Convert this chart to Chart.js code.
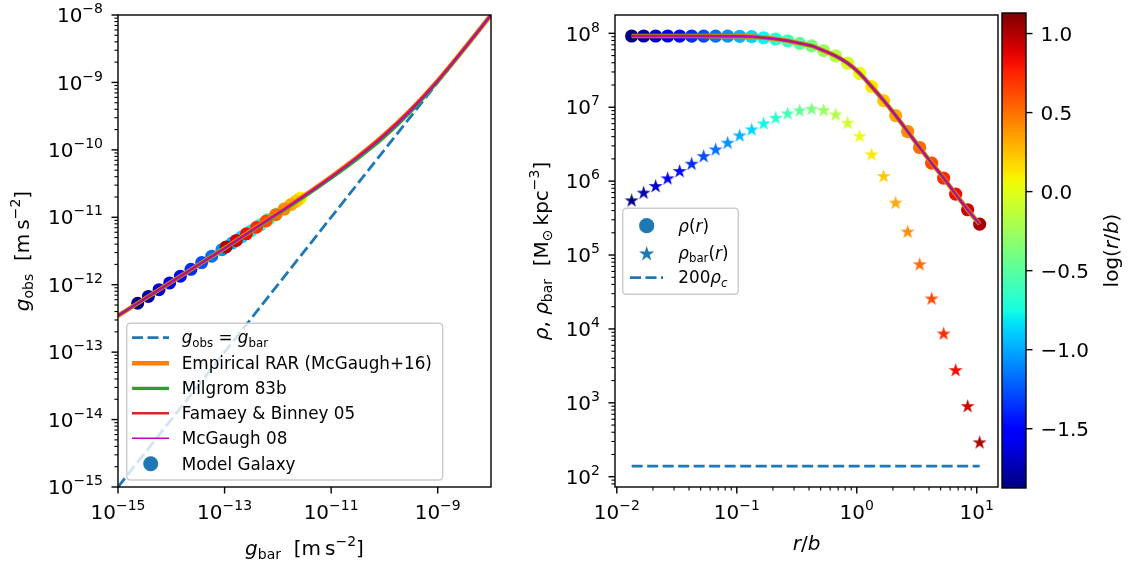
<!DOCTYPE html>
<html><head><meta charset="utf-8">
<script src="https://cdn.jsdelivr.net/npm/chart.js@4/dist/chart.umd.min.js"></script>
<style>
html,body{margin:0;padding:0;background:#fff;width:1128px;height:567px;overflow:hidden}
canvas{position:absolute;left:0;top:0}
</style></head><body>
<canvas id="cL" width="1128" height="567"></canvas>
<canvas id="cR" width="1128" height="567"></canvas>
<canvas id="cB" width="1128" height="567"></canvas>
<script>
// ---------------- DATA ----------------
// Right panel: radius grid r/b, densities (M_sun kpc^-3)
const rOverB = [0.01330,0.01675,0.02109,0.02655,0.03342,0.04207,0.05297,0.06668,0.08395,0.1057,0.1330,0.1675,0.2109,0.2655,0.3342,0.4207,0.5297,0.6668,0.8395,1.057,1.330,1.675,2.109,2.655,3.342,4.207,5.297,6.668,8.395,10.57];
const rho = [9.20e7,9.20e7,9.20e7,9.20e7,9.19e7,9.19e7,9.18e7,9.17e7,9.15e7,9.12e7,9.02e7,8.71e7,8.38e7,7.94e7,7.33e7,6.76e7,5.83e7,4.94e7,3.94e7,2.88e7,1.90e7,1.23e7,7.71e6,4.69e6,2.85e6,1.75e6,1.10e6,6.67e5,4.10e5,2.62e5];
const rhoBar = [5.42e5,6.89e5,8.47e5,1.076e6,1.352e6,1.698e6,2.153e6,2.649e6,3.266e6,4.102e6,4.943e6,5.957e6,7.096e6,8.128e6,8.913e6,9.397e6,9.016e6,7.870e6,6.081e6,4.018e6,2.270e6,1.156e6,5.047e5,2.046e5,7.396e4,2.541e4,8.551e3,2.735e3,891,288];
const rho200c = 139;
// Left panel: model galaxy accelerations (m s^-2), same radius grid
const gbarModel = [2.34e-15,3.72e-15,5.89e-15,9.33e-15,1.48e-14,2.34e-14,3.72e-14,5.75e-14,8.91e-14,1.38e-13,2.09e-13,3.16e-13,4.68e-13,6.76e-13,9.55e-13,1.32e-12,1.74e-12,2.14e-12,2.45e-12,2.69e-12,2.57e-12,2.24e-12,1.78e-12,1.32e-12,9.12e-13,6.03e-13,3.98e-13,2.57e-13,1.66e-13,1.07e-13];
const gobsModel = [5.31e-13,6.70e-13,8.43e-13,1.062e-12,1.340e-12,1.690e-12,2.13e-12,2.65e-12,3.31e-12,4.14e-12,5.11e-12,6.31e-12,7.73e-12,9.35e-12,1.119e-11,1.324e-11,1.531e-11,1.71e-11,1.84e-11,1.94e-11,1.89e-11,1.75e-11,1.55e-11,1.324e-11,1.092e-11,8.81e-12,7.11e-12,5.68e-12,4.54e-12,3.64e-12];
// Left panel: relation curves
const gbarCurve = [1e-15,3.16e-15,1e-14,3.16e-14,1e-13,3.16e-13,1e-12,3.16e-12,1e-11,3.16e-11,1e-10,3.16e-10,1e-9,3.16e-9,1e-8];
const gobsRAR = [3.47e-13,6.17e-13,1.096e-12,1.95e-12,3.47e-12,6.31e-12,1.148e-11,2.11e-11,3.98e-11,7.87e-11,1.67e-10,3.94e-10,1.059e-9,3.18e-9,1.0e-8];
const gobsMilgrom = [3.47e-13,6.17e-13,1.096e-12,1.95e-12,3.47e-12,6.22e-12,1.12e-11,2.02e-11,3.80e-11,7.41e-11,1.55e-10,3.72e-10,1.035e-9,3.17e-9,1.0e-8];
const gobsFB05 = [3.47e-13,6.17e-13,1.096e-12,1.95e-12,3.47e-12,6.32e-12,1.147e-11,2.11e-11,4.0e-11,7.94e-11,1.69e-10,4.02e-10,1.075e-9,3.2e-9,1.0e-8];
const gobsMcG08 = [3.47e-13,6.17e-13,1.096e-12,1.95e-12,3.47e-12,6.27e-12,1.14e-11,2.09e-11,3.92e-11,7.7e-11,1.62e-10,3.85e-10,1.045e-9,3.17e-9,1.0e-8];
const oneToOne = [1e-15, 1e-8];
// Colorbar range (log r/b) and ticks
const cbMin = -1.875, cbMax = 1.13;
const cbTicks = [-1.5,-1.0,-0.5,0.0,0.5,1.0];
const legendLeft = ['g_obs = g_bar','Empirical RAR (McGaugh+16)','Milgrom 83b','Famaey & Binney 05','McGaugh 08','Model Galaxy'];

// ---------------- STYLE HELPERS ----------------
const FONT = '"DejaVu Sans"';
const FS = 20, LFS = 16.8;
const C_BLUE='#1f77b4', C_OR='#ff7f0e', C_GR='#2ca02c', C_RED='#d62728', C_MAG='#bf00bf';
Chart.defaults.font.family = 'DejaVu Sans';

function jet(t){
  t=Math.max(0,Math.min(1,t));
  const seg=(p)=>{for(let i=1;i<p.length;i++){if(t<=p[i][0]){const[x0,y0]=p[i-1],[x1,y1]=p[i];return y0+(y1-y0)*(t-x0)/(x1-x0);}}return p[p.length-1][1];};
  const r=seg([[0,0],[0.35,0],[0.66,1],[0.89,1],[1,0.5]]);
  const g=seg([[0,0],[0.125,0],[0.375,1],[0.64,1],[0.91,0],[1,0]]);
  const b=seg([[0,0.5],[0.11,1],[0.34,1],[0.65,0],[1,0]]);
  return `rgb(${Math.round(r*255)},${Math.round(g*255)},${Math.round(b*255)})`;
}
const colorOfR = r => jet((Math.log10(r)-cbMin)/(cbMax-cbMin));
const ptColors = rOverB.map(colorOfR);

function starPath(ctx,cx,cy,R){
  const ri=R*0.381966; ctx.beginPath();
  for(let k=0;k<10;k++){const a=-Math.PI/2+k*Math.PI/5;const rr=k%2?ri:R;ctx.lineTo(cx+rr*Math.cos(a),cy+rr*Math.sin(a));}
  ctx.closePath();
}
function starImage(color,R){
  const c=document.createElement('canvas');const s=Math.ceil(2*R+2);c.width=s;c.height=s;
  const x=c.getContext('2d');x.fillStyle=color;starPath(x,s/2,s/2,R);x.fill();return c;
}
const starImgs = ptColors.map(c=>starImage(c,7.4));

// rich text: parts [text, flags] flags: i italic, _ subscript, ^ superscript
function drawRich(ctx, parts, x, y, o={}){
  const fs=o.fs||FS, align=o.align||'left';
  ctx.save(); ctx.translate(x,y); if(o.rot) ctx.rotate(o.rot);
  ctx.textAlign='left'; ctx.textBaseline='alphabetic'; ctx.fillStyle=o.color||'#000';
  const items=[]; let w=0;
  for(const [t,f=''] of parts){
    const small=f.includes('_')||f.includes('^');
    const size=small?fs*0.7:fs;
    ctx.font=(f.includes('i')?'italic ':'')+size.toFixed(2)+'px '+FONT;
    const tw=ctx.measureText(t).width;
    let dy=0; if(f.includes('_')) dy=fs*0.22; if(f.includes('^')) dy=-fs*0.45;
    items.push({t,font:ctx.font,x:w,dy}); w+=tw;
  }
  const x0=align==='center'?-w/2:align==='right'?-w:0;
  for(const it of items){ctx.font=it.font;ctx.fillText(it.t,x0+it.x,it.dy);}
  ctx.restore();
}
const supLabel = e => [['10',''],[(e<0?'\u2212':'')+Math.abs(e),'^']];

function logTickList(minE,maxE,step,minor){
  const out=[];
  for(let e=minE;e<=maxE;e++){
    if(((e-minE)%step)===0) out.push({v:Math.pow(10,e),e,major:true});
    if(minor) for(let m=2;m<=9;m++) out.push({v:m*Math.pow(10,e),major:false});
  }
  return out;
}
function drawTicksX(chart, ticks, baseline){
  const ctx=chart.ctx,s=chart.scales.x,a=chart.chartArea;
  ctx.save(); ctx.strokeStyle='#000';
  for(const t of ticks){
    if(t.v<s.min*0.9999||t.v>s.max*1.0001) continue;
    const px=s.getPixelForValue(t.v);
    ctx.lineWidth=t.major?1.4:1.1; const len=t.major?6.5:3.6;
    ctx.beginPath();ctx.moveTo(px,a.bottom);ctx.lineTo(px,a.bottom+len);ctx.stroke();
    if(t.major) drawRich(ctx,supLabel(t.e),px,baseline,{align:'center'});
  }
  ctx.restore();
}
function drawTicksY(chart, ticks, rightX){
  const ctx=chart.ctx,s=chart.scales.y,a=chart.chartArea;
  ctx.save(); ctx.strokeStyle='#000';
  for(const t of ticks){
    if(t.v<s.min*0.9999||t.v>s.max*1.0001) continue;
    const py=s.getPixelForValue(t.v);
    ctx.lineWidth=t.major?1.4:1.1; const len=t.major?6.5:3.6;
    ctx.beginPath();ctx.moveTo(a.left,py);ctx.lineTo(a.left-len,py);ctx.stroke();
    if(t.major) drawRich(ctx,supLabel(t.e),rightX,py+7.2,{align:'right'});
  }
  ctx.restore();
}
function frame(chart){
  const ctx=chart.ctx,a=chart.chartArea;
  ctx.save();ctx.strokeStyle='#000';ctx.lineWidth=1.4;
  ctx.strokeRect(a.left,a.top,a.right-a.left,a.bottom-a.top);ctx.restore();
}
function legendBox(ctx,x,y,w,h){
  const r=4; ctx.save(); ctx.beginPath();
  ctx.moveTo(x+r,y);ctx.lineTo(x+w-r,y);ctx.quadraticCurveTo(x+w,y,x+w,y+r);
  ctx.lineTo(x+w,y+h-r);ctx.quadraticCurveTo(x+w,y+h,x+w-r,y+h);
  ctx.lineTo(x+r,y+h);ctx.quadraticCurveTo(x,y+h,x,y+h-r);
  ctx.lineTo(x,y+r);ctx.quadraticCurveTo(x,y,x+r,y);ctx.closePath();
  ctx.fillStyle='rgba(255,255,255,0.8)';ctx.fill();
  ctx.strokeStyle='#cccccc';ctx.lineWidth=1.4;ctx.stroke();ctx.restore();
}
function hline(ctx,x1,x2,y,color,lw,dash){
  ctx.save();ctx.strokeStyle=color;ctx.lineWidth=lw;ctx.setLineDash(dash||[]);ctx.lineCap='butt';
  ctx.beginPath();ctx.moveTo(x1,y);ctx.lineTo(x2,y);ctx.stroke();ctx.restore();
}
const DASH=[11,4.5];

const xy=(xs,ys)=>xs.map((x,i)=>({x,y:ys[i]}));
const baseOpts = (pad, xs, ys) => ({
  responsive:false, animation:false, events:[],
  layout:{padding:pad},
  plugins:{legend:{display:false},tooltip:{enabled:false}},
  scales:{x:Object.assign({display:false,bounds:'data'},xs), y:Object.assign({display:false,bounds:'data'},ys)}
});
const lineDs=(data,color,w,order,extra)=>Object.assign({data,showLine:true,borderColor:color,borderWidth:w,pointRadius:0,fill:false,cubicInterpolationMode:'monotone',order},extra||{});

// ---------------- LEFT PANEL ----------------
new Chart(document.getElementById('cL'),{
  type:'scatter',
  data:{datasets:[
    {data:xy(gbarModel,gobsModel),pointRadius:6.5,pointBackgroundColor:ptColors,pointBorderWidth:0,pointBorderColor:'rgba(0,0,0,0)',order:10},
    lineDs(xy(oneToOne,oneToOne),C_BLUE,2.8,6,{borderDash:DASH,cubicInterpolationMode:'default'}),
    lineDs(xy(gbarCurve,gobsRAR),C_OR,4.6,4),
    lineDs(xy(gbarCurve,gobsMilgrom),C_GR,3.2,3),
    lineDs(xy(gbarCurve,gobsFB05),C_RED,2.4,2),
    lineDs(xy(gbarCurve,gobsMcG08),C_MAG,1.5,1)
  ]},
  options:baseOpts({left:118,top:15,right:1128-491,bottom:567-487},
    {type:'logarithmic',min:1e-15,max:1e-8},{type:'logarithmic',min:1e-15,max:1e-8}),
  plugins:[{id:'decorL',afterDraw(chart){
    const ctx=chart.ctx;
    frame(chart);
    drawTicksX(chart,logTickList(-15,-8,2,false),519);
    drawTicksY(chart,logTickList(-15,-8,1,true),103);
    drawRich(ctx,[['g','i'],['bar','_'],['  [m\u2009s',''],['\u22122','^'],[']','']],304.5,555,{align:'center'});
    drawRich(ctx,[['g','i'],['obs','_'],['  [m\u2009s',''],['\u22122','^'],[']','']],28.5,251,{align:'center',rot:-Math.PI/2});
    // legend
    legendBox(ctx,126.7,323.3,316,156.7);
    const rows=[337.6,363.3,388.3,413.3,438.3,463.8], hx1=132, hx2=169, tx=181.7;
    hline(ctx,hx1,hx2,rows[0],C_BLUE,2.8,DASH);
    hline(ctx,hx1,hx2,rows[1],C_OR,4.6);
    hline(ctx,hx1,hx2,rows[2],C_GR,3.2);
    hline(ctx,hx1,hx2,rows[3],C_RED,2.4);
    hline(ctx,hx1,hx2,rows[4],C_MAG,1.5);
    ctx.save();ctx.fillStyle=C_BLUE;ctx.beginPath();ctx.arc(150.7,rows[5],7.5,0,2*Math.PI);ctx.fill();ctx.restore();
    drawRich(ctx,[['g','i'],['obs','_'],[' = ',''],['g','i'],['bar','_']],tx,rows[0]+5.5,{fs:LFS});
    for(let i=1;i<6;i++) drawRich(ctx,[[legendLeft[i],'']],tx,rows[i]+6.1,{fs:LFS});
  }}]
});

// ---------------- RIGHT PANEL ----------------
new Chart(document.getElementById('cR'),{
  type:'scatter',
  data:{datasets:[
    {data:xy(rOverB,rho),pointRadius:6.6,pointBackgroundColor:ptColors,pointBorderWidth:0,pointBorderColor:'rgba(0,0,0,0)',order:10},
    {data:xy(rOverB,rhoBar),pointRadius:6,pointStyle:(c)=>starImgs[c.dataIndex],order:9},
    lineDs(xy([rOverB[0],rOverB[rOverB.length-1]],[rho200c,rho200c]),C_BLUE,2.8,6,{borderDash:DASH,cubicInterpolationMode:'default'}),
    lineDs(xy(rOverB,rho),C_OR,4.6,4),
    lineDs(xy(rOverB,rho),C_GR,3.2,3),
    lineDs(xy(rOverB,rho),C_RED,2.4,2),
    lineDs(xy(rOverB,rho),C_MAG,1.5,1)
  ]},
  options:baseOpts({left:615,top:15,right:1128-998,bottom:567-487},
    {type:'logarithmic',min:Math.pow(10,-2.015),max:Math.pow(10,1.177)},
    {type:'logarithmic',min:Math.pow(10,1.861),max:Math.pow(10,8.248)}),
  plugins:[{id:'decorR',afterDraw(chart){
    const ctx=chart.ctx;
    frame(chart);
    drawTicksX(chart,logTickList(-3,1,1,true),519);
    drawTicksY(chart,logTickList(1,8,1,true),600);
    drawRich(ctx,[['r','i'],['/',''],['b','i']],806.5,550,{align:'center'});
    drawRich(ctx,[['\u03c1','i'],[', ',''],['\u03c1','i'],['bar','_'],['  [M',''],['\u2299','_'],['\u2009kpc',''],['\u22123','^'],[']','']],548,251,{align:'center',rot:-Math.PI/2});
    legendBox(ctx,622.7,208.3,115.6,86);
    const rows=[225.7,254,277.6], tx=678.3;
    ctx.save();ctx.fillStyle=C_BLUE;ctx.beginPath();ctx.arc(646.7,rows[0],7.6,0,2*Math.PI);ctx.fill();
    starPath(ctx,646.7,rows[1],8);ctx.fill();ctx.restore();
    hline(ctx,630,663,rows[2],C_BLUE,2.8,DASH);
    drawRich(ctx,[['\u03c1','i'],['(',''],['r','i'],[')','']],tx,rows[0]+5.8,{fs:LFS});
    drawRich(ctx,[['\u03c1','i'],['bar','_'],['(',''],['r','i'],[')','']],tx,rows[1]+4.8,{fs:LFS});
    drawRich(ctx,[['200',''],['\u03c1','i'],['c','i_']],tx,rows[2]+5.8,{fs:LFS});
  }}]
});

// ---------------- COLORBAR ----------------
new Chart(document.getElementById('cB'),{
  type:'scatter',
  data:{datasets:[{data:[],pointRadius:0}]},
  options:baseOpts({left:1002,top:13,right:1128-1026,bottom:567-488},
    {type:'linear',min:0,max:1},{type:'linear',min:cbMin,max:cbMax}),
  plugins:[{id:'cbar',afterDraw(chart){
    const ctx=chart.ctx,a=chart.chartArea,s=chart.scales.y;
    const yTop=s.getPixelForValue(cbMax), yBot=s.getPixelForValue(cbMin);
    const g=ctx.createLinearGradient(0,yBot,0,yTop);
    for(let k=0;k<=40;k++) g.addColorStop(k/40,jet(k/40));
    ctx.save();ctx.fillStyle=g;ctx.fillRect(a.left,yTop,a.right-a.left,yBot-yTop);
    ctx.strokeStyle='#000';ctx.lineWidth=1.4;ctx.strokeRect(a.left,yTop,a.right-a.left,yBot-yTop);
    for(const v of cbTicks){
      const py=s.getPixelForValue(v);
      ctx.lineWidth=1.4;ctx.beginPath();ctx.moveTo(a.right,py);ctx.lineTo(a.right+6.5,py);ctx.stroke();
      const lab=(v<0?'\u2212':'')+Math.abs(v).toFixed(1);
      drawRich(ctx,[[lab,'']],1040.5,py+7.2);
    }
    ctx.restore();
    drawRich(ctx,[['log(',''],['r','i'],['/',''],['b','i'],[')','']],1118,250.5,{align:'center',rot:-Math.PI/2});
  }}]
});
</script>
</body></html>
